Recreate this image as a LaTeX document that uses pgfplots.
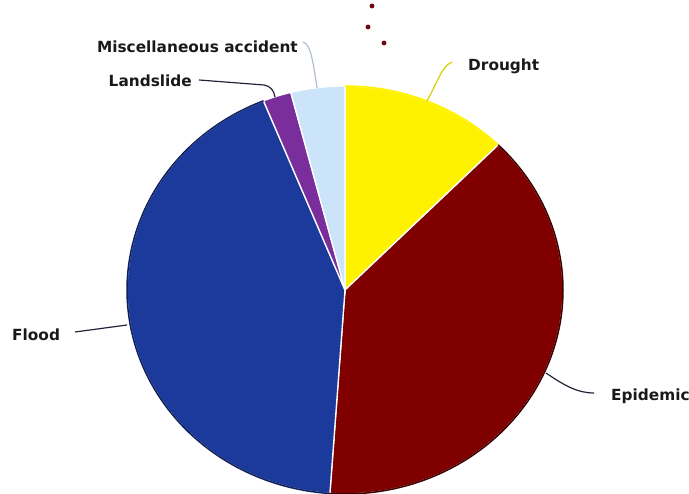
\documentclass[border=0pt]{standalone}
\usepackage{pgfplots}
\usepackage{pgfplotstable}
\pgfplotsset{compat=1.18}
\usepackage{fontspec}
\setmainfont{DejaVu Sans}

\definecolor{drought}{HTML}{FFF200}
\definecolor{epidemic}{HTML}{800000}
\definecolor{flood}{HTML}{1B3A9C}
\definecolor{landslide}{HTML}{7A2E9B}
\definecolor{misc}{HTML}{CCE4FA}
\definecolor{epidemicedge}{HTML}{3A0000}
\definecolor{floodedge}{HTML}{0F1F5A}
\definecolor{leaderdark}{HTML}{2A1F3A}
\definecolor{leadermisc}{HTML}{AEBFCF}
\definecolor{dotred}{HTML}{6B0A10}

\tikzset{lbl/.style={font=\bfseries\fontsize{15.4}{17}\selectfont, text=black!90, inner sep=0pt}}

% share of each cause, in percent, clockwise from twelve o'clock
\pgfplotstableread{
cause share
Drought 12.4
Epidemic 38.7
Flood 42.8
Landslide 2.1
Misc 4.0
}\causes

% one slice of the (slightly elliptical) pie, centre (345,204), radii 218 x 204
\newcommand\pieslice[3]{%
  \addplot[fill=#3, draw=white, line width=1.3bp, domain=#2:#1, samples=90, variable=\t]
    ({345+218*cos(\t)},{204+204*sin(\t)}) -- (axis cs:345,204) -- cycle;}
\newcommand\pierim[3]{%
  \addplot[draw=#3, line width=1.5bp, domain=#2:#1, samples=90, variable=\t]
    ({345+218*cos(\t)},{204+204*sin(\t)});}

\begin{document}
\begin{tikzpicture}
\pgfplotstablegetelem{0}{share}\of\causes \let\sA\pgfplotsretval
\pgfplotstablegetelem{1}{share}\of\causes \let\sB\pgfplotsretval
\pgfplotstablegetelem{2}{share}\of\causes \let\sC\pgfplotsretval
\pgfplotstablegetelem{3}{share}\of\causes \let\sD\pgfplotsretval
\pgfplotstablegetelem{4}{share}\of\causes \let\sE\pgfplotsretval
\pgfmathsetmacro\aA{90}
\pgfmathsetmacro\aB{\aA-3.6*\sA}
\pgfmathsetmacro\aC{\aB-3.6*\sB}
\pgfmathsetmacro\aD{\aC-3.6*\sC}
\pgfmathsetmacro\aE{\aD-3.6*\sD}
\pgfmathsetmacro\aF{\aE-3.6*\sE}
\useasboundingbox (0,0) rectangle (689bp,494bp);
\begin{axis}[
  anchor=south west, at={(0,0)},
  width=689bp, height=494bp, scale only axis,
  xmin=0, xmax=689, ymin=0, ymax=494,
  hide axis, clip=false,
]
\pieslice{\aA}{\aB}{drought}
\pieslice{\aB}{\aC}{epidemic}
\pieslice{\aC}{\aD}{flood}
\pieslice{\aD}{\aE}{landslide}
\pieslice{\aE}{\aF}{misc}
\pierim{\aA}{\aB}{drought}
\pierim{\aB}{\aC}{epidemicedge}
\pierim{\aC}{\aD}{floodedge}

% small dots at the top
\addplot[only marks, mark=*, mark size=2.2bp, color=dotred] coordinates {(372,488) (368,467) (384,451)};

% leader lines
\draw[drought!85!black, line width=1.2bp] (axis cs:427,393) .. controls (axis cs:438,413) and (axis cs:442,428) .. (axis cs:452,432);
\draw[leadermisc, line width=1.2bp] (axis cs:303,452) .. controls (axis cs:310,449) and (axis cs:312,440) .. (axis cs:317,406);
\draw[leaderdark, line width=1.2bp] (axis cs:199,414) -- (axis cs:264,409) .. controls (axis cs:270,408) and (axis cs:274,404) .. (axis cs:275,397);
\draw[leaderdark, line width=1.2bp] (axis cs:75,162) -- (axis cs:127,169);
\draw[leaderdark, line width=1.2bp] (axis cs:546,121) .. controls (axis cs:565,108) and (axis cs:578,101) .. (axis cs:594,101);

% labels
\node[lbl, anchor=west] at (axis cs:468,428) {Drought};
\node[lbl, anchor=east] at (axis cs:298,447) {Miscellaneous accident};
\node[lbl, anchor=east] at (axis cs:192,413) {Landslide};
\node[lbl, anchor=west] at (axis cs:12,159) {Flood};
\node[lbl, anchor=west] at (axis cs:611,98) {Epidemic};
\end{axis}
\end{tikzpicture}
\end{document}
